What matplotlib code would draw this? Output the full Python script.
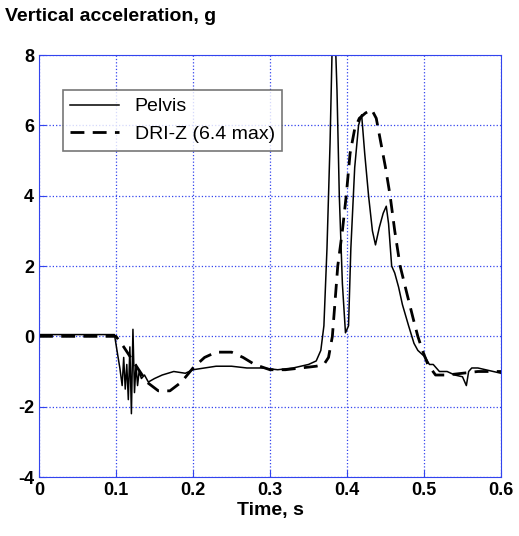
import matplotlib
matplotlib.use('Agg')
import matplotlib.pyplot as plt

plt.rcParams['font.family'] = ['Liberation Sans', 'DejaVu Sans']
plt.rcParams['axes.unicode_minus'] = False

# Pelvis (solid)
pelvis_t = [0.0, 0.05, 0.098, 0.102, 0.105, 0.108, 0.110, 0.112, 0.114, 0.116, 0.118, 0.120,
            0.122, 0.124, 0.126, 0.128, 0.130, 0.133, 0.137, 0.142, 0.150, 0.160, 0.175,
            0.190, 0.200, 0.215, 0.230, 0.250, 0.270, 0.290, 0.310, 0.330, 0.350, 0.360,
            0.366, 0.370, 0.374, 0.378, 0.381, 0.384, 0.387, 0.390, 0.394, 0.398, 0.402,
            0.405, 0.410, 0.415, 0.419, 0.423, 0.428, 0.433, 0.437, 0.442, 0.447, 0.451,
            0.454, 0.458, 0.462, 0.467, 0.472, 0.480, 0.487, 0.492, 0.497, 0.502, 0.507,
            0.512, 0.520, 0.530, 0.540, 0.550, 0.555, 0.558, 0.562, 0.570, 0.580, 0.590, 0.600]
pelvis_a = [0.05, 0.05, 0.05, -0.5, -0.9, -1.4, -0.6, -1.5, -0.8, -1.8, -0.3, -2.2,
            0.2, -1.6, -0.8, -1.4, -1.0, -1.2, -1.1, -1.3, -1.2, -1.1, -1.0,
            -1.05, -0.95, -0.9, -0.85, -0.85, -0.9, -0.9, -0.95, -0.9, -0.8, -0.7,
            -0.4, 0.3, 2.5, 5.5, 8.5, 9.0, 7.0, 4.0, 1.5, 0.1, 0.3,
            2.5, 4.8, 6.0, 6.3, 5.2, 4.0, 3.0, 2.6, 3.1, 3.5, 3.7,
            3.2, 2.0, 1.8, 1.4, 0.9, 0.3, -0.2, -0.4, -0.5, -0.6, -0.8,
            -0.8, -1.0, -1.0, -1.1, -1.15, -1.4, -1.0, -0.9, -0.9, -0.95, -1.0, -1.05]

# DRI-Z (dashed)
dri_t = [0.0, 0.05, 0.100, 0.110, 0.125, 0.140, 0.155, 0.170, 0.185, 0.200, 0.215, 0.230,
         0.250, 0.265, 0.280, 0.300, 0.320, 0.340, 0.360, 0.370, 0.376, 0.381, 0.388,
         0.394, 0.399, 0.404, 0.410, 0.416, 0.424, 0.432, 0.438, 0.444, 0.450, 0.456,
         0.462, 0.469, 0.478, 0.486, 0.492, 0.498, 0.505, 0.515, 0.530, 0.550, 0.570, 0.600]
dri_a = [0.0, 0.0, 0.0, -0.3, -0.8, -1.3, -1.55, -1.55, -1.3, -0.9, -0.6, -0.45,
         -0.45, -0.6, -0.8, -0.95, -0.95, -0.9, -0.85, -0.8, -0.6, 0.0, 2.0,
         3.0, 4.0, 5.2, 5.9, 6.2, 6.35, 6.45, 6.2, 5.5, 4.8, 4.0,
         3.0, 2.0, 1.2, 0.5, 0.0, -0.4, -0.8, -1.1, -1.1, -1.05, -1.0, -1.0]

fig = plt.figure(figsize=(5.19, 5.36), dpi=100)
ax = fig.add_axes([39 / 519, 1 - 477 / 536, 462 / 519, 422 / 536])
ax.plot(pelvis_t, pelvis_a, color='black', linewidth=1.1, label='Pelvis')
ax.plot(dri_t, dri_a, color='black', linewidth=2, dashes=(5, 3), label='DRI-Z (6.4 max)')
ax.set_xlim(0, 0.6)
ax.set_ylim(-4, 8)
ax.set_xticks([0, 0.1, 0.2, 0.3, 0.4, 0.5, 0.6])
ax.set_xticklabels(['0', '0.1', '0.2', '0.3', '0.4', '0.5', '0.6'])
ax.set_yticks(range(-4, 9, 2))
ax.grid(True, color='#3344ee', linestyle=':', linewidth=0.9)
for s in ax.spines.values():
    s.set_color('#3344ee')
ax.tick_params(colors='#3344ee', direction='in', labelcolor='black', labelsize=13, length=5)
for lab in ax.get_xticklabels() + ax.get_yticklabels():
    lab.set_fontweight('bold')
ax.set_xlabel('Time, s', fontsize=14, fontweight='bold', labelpad=2)
fig.text(0.01, 0.985, 'Vertical acceleration, g', fontsize=14, fontweight='bold', va='top')
leg = ax.legend(loc='upper left', bbox_to_anchor=(0.03, 0.94), fontsize=14, fancybox=False,
                edgecolor='#555555', handlelength=2.5, borderpad=0.4)
leg.get_frame().set_linewidth(1.2)
fig.savefig('out.png', dpi=100)
